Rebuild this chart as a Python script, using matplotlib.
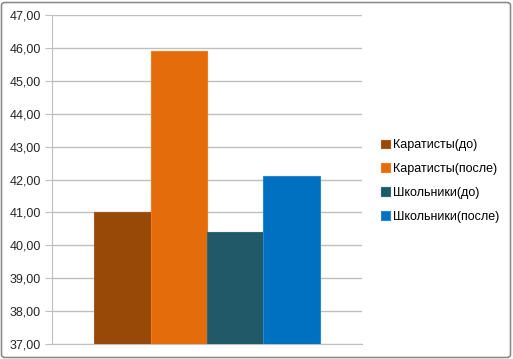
import matplotlib
matplotlib.use("Agg")
import matplotlib.pyplot as plt
from matplotlib.patches import FancyBboxPatch
from matplotlib.ticker import FuncFormatter

series = ["Каратисты(до)", "Каратисты(после)", "Школьники(до)", "Школьники(после)"]
values = [41.0, 45.9, 40.4, 42.1]
colors = ["#984807", "#E46C0A", "#215968", "#0070C0"]
edges = ["#a8571a", "#f07a1c", "#2d6877", "#2a86d0"]

plt.rcParams['font.family'] = ['Liberation Sans', 'DejaVu Sans']

fig = plt.figure(figsize=(5.13, 3.59), dpi=100)
ax = fig.add_axes([52 / 513, 15 / 359, 310 / 513, 329 / 359])

# draw bars from the axis bottom (37) up to each value
base = 37
for i, (name, v, c, e) in enumerate(zip(series, values, colors, edges)):
    ax.bar(i - 1.5, v - base, bottom=base, width=1.0, color=c, edgecolor=e,
           linewidth=0.8, label=name, zorder=3)

ax.set_xlim(-2.75, 2.75)
ax.set_ylim(37, 47)
ax.set_yticks(range(37, 48))
ax.yaxis.set_major_formatter(FuncFormatter(lambda y, p: f"{y:.2f}".replace(".", ",")))
ax.set_xticks([])
ax.grid(axis='y', color='#bfbfbf', linewidth=1.0, zorder=0)
for s in ['top', 'right']:
    ax.spines[s].set_visible(False)
ax.spines['left'].set_color('#bfbfbf')
ax.spines['bottom'].set_color('#bfbfbf')
ax.tick_params(axis='y', length=5, color='#bfbfbf', labelsize=9, labelcolor='#262626', pad=3)

ax.legend(loc='center left', bbox_to_anchor=((381 - 52) / 310, 0.495), frameon=False,
          fontsize=9, handlelength=0.7, handleheight=0.7, handletextpad=0.3,
          labelspacing=0.95, borderaxespad=0, borderpad=0)

# chart frame
frame = FancyBboxPatch((1.5 / 513, 1.5 / 359), 509 / 513, 355 / 359,
                       boxstyle="round,pad=0,rounding_size=0.008",
                       transform=fig.transFigure, fill=False,
                       edgecolor='#8c8c8c', linewidth=1.2)
fig.patches.append(frame)

fig.savefig("out.png", dpi=100)
